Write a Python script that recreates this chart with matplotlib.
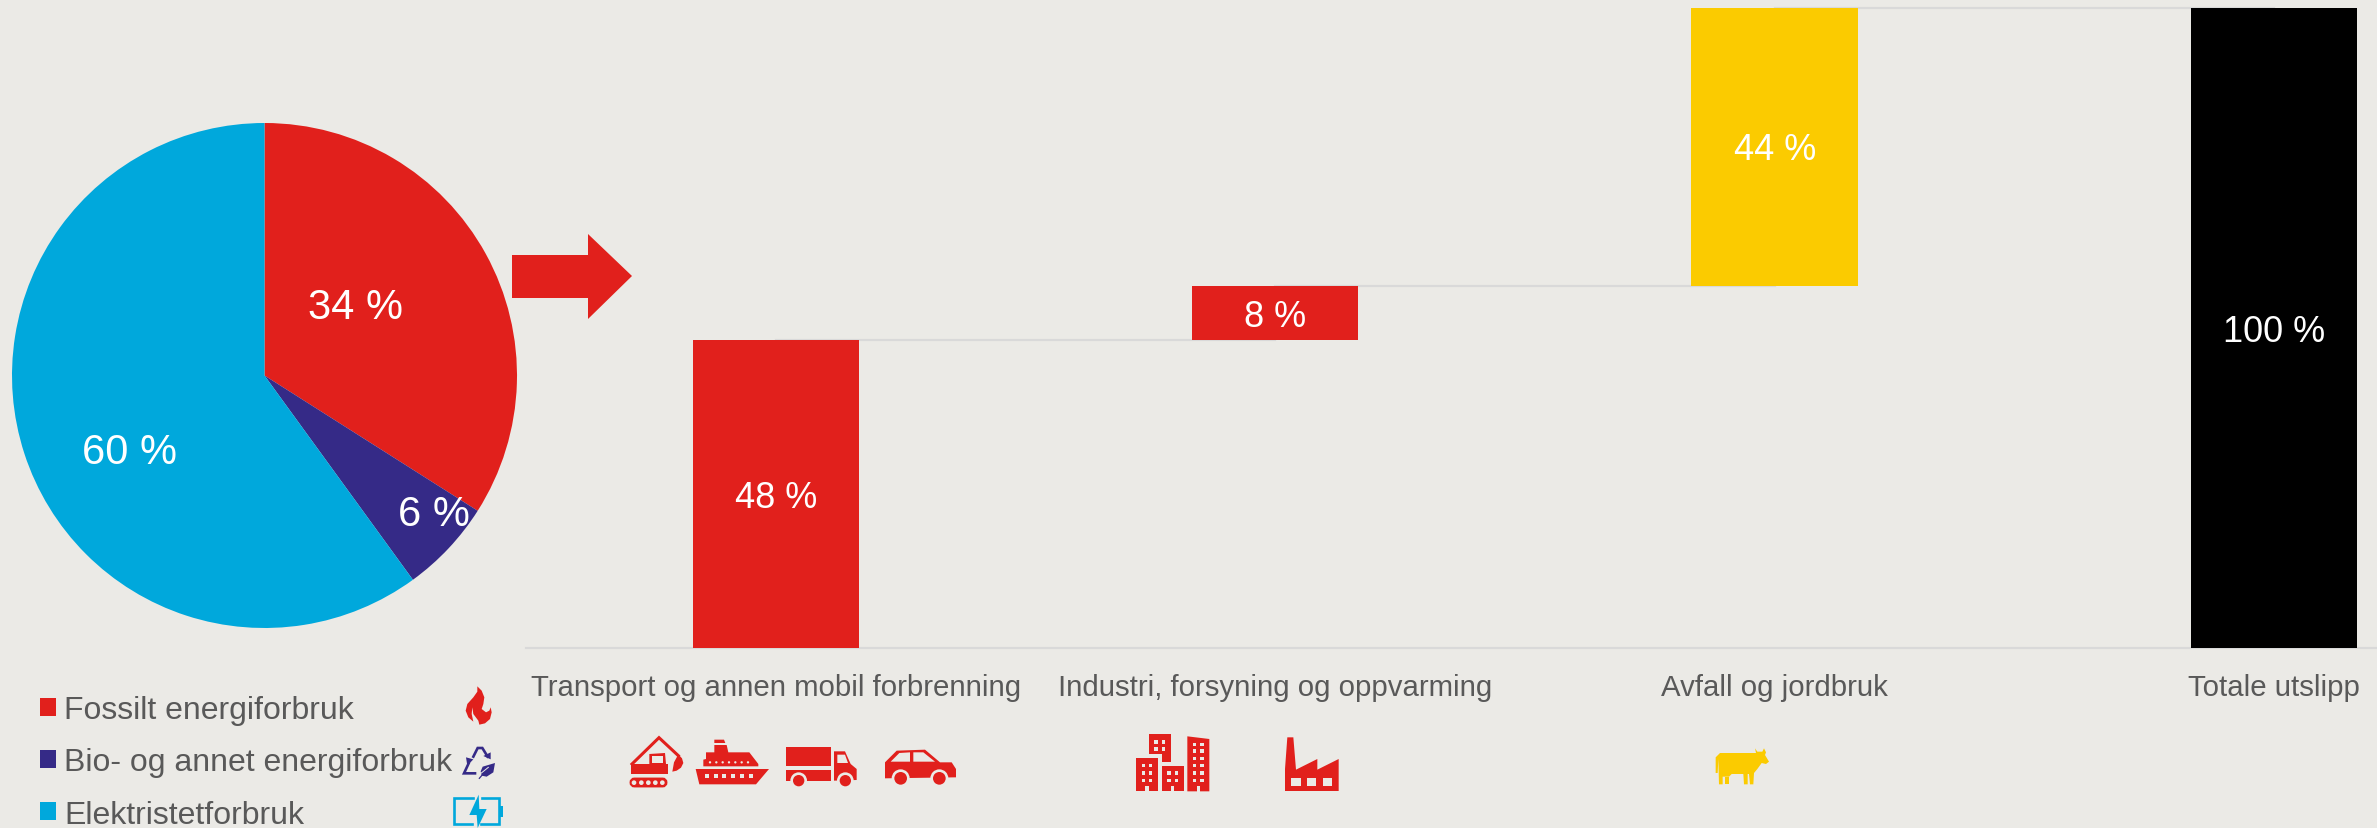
import matplotlib
matplotlib.use("Agg")
import matplotlib.pyplot as plt
from matplotlib.patches import Polygon, Rectangle, Circle, FancyBboxPatch
from matplotlib.lines import Line2D

plt.rcParams['font.family'] = ['Liberation Sans', 'DejaVu Sans']

W, H = 2377, 829
BG = '#EBEAE6'; RED = '#E1201C'; BLUE = '#00A8DC'; NAVY = '#352A87'
YELLOW = '#FBCB00'; GREY = '#595959'; RULE = '#D9D9D9'

pie_labels = ['Fossilt energiforbruk', 'Bio- og annet energiforbruk', 'Elektristetforbruk']
pie_values = [34, 6, 60]
pie_colors = [RED, NAVY, BLUE]

categories = ['Transport og annen mobil forbrenning', 'Industri, forsyning og oppvarming',
              'Avfall og jordbruk', 'Totale utslipp']
bar_values = [48.1, 8.5, 43.4, 100]
bar_bottoms = [0, 48.1, 56.6, 0]
bar_labels = ['48 %', '8 %', '44 %', '100 %']
bar_colors = [RED, RED, YELLOW, 'black']

fig = plt.figure(figsize=(W / 100, H / 100), dpi=100, facecolor=BG)


def axes_px(x0, y0, x1, y1, **kw):
    return fig.add_axes([x0 / W, 1 - y1 / H, (x1 - x0) / W, (y1 - y0) / H], **kw)


# ---- pie
ax_p = axes_px(12, 124, 517, 629)
ax_p.pie(pie_values, colors=pie_colors, startangle=90, counterclock=False, radius=1,
         wedgeprops={'linewidth': 0})
ax_p.set_xlim(-1, 1); ax_p.set_ylim(-1, 1)
for v, (tx, ty) in zip(pie_values, [(0.36, 0.273), (0.67, -0.547), (-0.535, -0.302)]):
    ax_p.text(tx, ty, f'{v} %', color='white', fontsize=30, ha='center', va='center')

# ---- waterfall
ax_b = axes_px(526, 9, W, 649)
ax_b.set_facecolor('none')
xs = range(len(categories))
ax_b.bar(xs, bar_values, bottom=bar_bottoms, width=0.333, color=bar_colors, linewidth=0, zorder=3)
ax_b.set_xlim(-0.5, 3.206); ax_b.set_ylim(0, 100)
for i in range(len(categories) - 1):
    lvl = bar_bottoms[i] + bar_values[i]
    ax_b.plot([i, i + 1], [lvl, lvl], color=RULE, lw=1.6, zorder=1, clip_on=False)
for i, (v, b, lab) in enumerate(zip(bar_values, bar_bottoms, bar_labels)):
    ax_b.annotate(lab, (i, b + v / 2), xytext=(0, -2.2), textcoords='offset points', color='white',
                  fontsize=26, ha='center', va='center', zorder=4)
for s in ('top', 'left', 'right'):
    ax_b.spines[s].set_visible(False)
ax_b.spines['bottom'].set_color(RULE); ax_b.spines['bottom'].set_linewidth(1.6)
ax_b.set_yticks([])
ax_b.set_xticks(list(xs))
ax_b.set_xticklabels(categories, fontsize=21.15, color=GREY)
ax_b.tick_params(axis='x', length=0, pad=18)

# ---- overlay in pixel coordinates, for the arrow and icons
ov = fig.add_axes([0, 0, 1, 1], zorder=5)
ov.set_xlim(0, W); ov.set_ylim(H, 0); ov.axis('off'); ov.patch.set_alpha(0)

# legend
fig.legend(handles=[Rectangle((0, 0), 1, 1, color=c, lw=0) for c in pie_colors], labels=pie_labels,
           loc='upper left', bbox_to_anchor=(40 / W, 1 - 696 / H), frameon=False,
           fontsize=23, labelcolor=GREY, handlelength=0.5, handleheight=0.5,
           handletextpad=0.25, labelspacing=0.70, borderpad=0, borderaxespad=0)

ov.add_patch(Polygon([(512, 256), (588, 256), (588, 235), (632, 277), (588, 320), (588, 299), (512, 299)],
                     color=RED, lw=0))


class Ic:
    def __init__(self, ox, oy, s=3.0):
        self.ox, self.oy, self.s = ox, oy, s

    def t(self, p):
        return (self.ox + p[0] / self.s, self.oy + p[1] / self.s)

    def poly(self, pts, c=RED):
        ov.add_patch(Polygon([self.t(p) for p in pts], closed=True, fc=c, ec='none', lw=0))

    def rect(self, x0, y0, x1, y1, c=RED):
        self.poly([(x0, y0), (x1, y0), (x1, y1), (x0, y1)], c)

    def circ(self, x, y, r, c=RED):
        ov.add_patch(Circle(self.t((x, y)), r / self.s, fc=c, ec='none', lw=0))

    def line(self, pts, c=RED, lw=2.0):
        q = [self.t(p) for p in pts]
        ov.add_line(Line2D([a[0] for a in q], [a[1] for a in q], color=c, lw=lw, solid_joinstyle='miter'))


a = Ic(610, 710)
# excavator
a.line([(66, 165), (147, 86), (205, 140)], lw=2.2)
a.rect(62, 165, 173, 196)
a.poly([(118, 165), (118, 135), (165, 132), (168, 165)])
a.rect(127, 141, 158, 162, BG)
a.poly([(205, 136), (216, 148), (220, 162), (213, 176), (200, 185), (187, 188), (192, 160)])
ov.add_patch(FancyBboxPatch(a.t((66, 213)), 99 / 3, 5, boxstyle='round,pad=0,rounding_size=2.5',
                            fc=RED, ec=RED, lw=3.5))
for x in (72, 94, 115, 136, 157):
    a.circ(x, 221, 7, BG)
# ship
a.poly([(257, 180), (477, 180), (438, 226), (268, 226)])
a.poly([(280, 172), (445, 172), (445, 165), (418, 130), (355, 130), (350, 108), (313, 108),
        (313, 130), (288, 130), (288, 150), (280, 152)])
a.poly([(313, 92), (342, 92), (346, 102), (313, 102)])
for x in (291, 317, 343, 370, 396, 423):
    a.rect(x - 6, 196, x + 6, 207, BG)
for x in (300, 319, 338, 357, 376, 395, 414):
    a.circ(x, 160, 3.5, BG)
# truck
a.rect(528, 113, 663, 172)
a.rect(528, 182, 663, 215)
a.poly([(672, 127), (705, 127), (722, 165), (740, 180), (740, 213), (672, 215)])
a.poly([(682, 137), (705, 137), (714, 162), (682, 162)], BG)
for x in (566, 706):
    a.circ(x, 215, 25, BG)
    a.circ(x, 215, 17)
# car
a.poly([(825, 160), (860, 125), (945, 122), (990, 160), (1025, 160), (1038, 180), (1038, 205), (825, 208)])
a.poly([(842, 158), (868, 132), (900, 130), (900, 158)], BG)
a.poly([(910, 130), (940, 130), (975, 158), (910, 158)], BG)
for x in (872, 988):
    a.circ(x, 208, 27, BG)
    a.circ(x, 208, 19)

b = Ic(1110, 710)
# buildings
b.rect(78, 148, 144, 247)
b.rect(155, 170, 221, 247)
b.poly([(232, 82), (298, 90), (298, 247), (232, 247)])
b.poly([(116, 76), (182, 76), (182, 158), (155, 158), (155, 136), (116, 136)])
for x in (138, 160):
    for y in (99, 120):
        b.rect(x - 5, y - 5, x + 5, y + 5, BG)
for x in (100, 122):
    for y in (170, 192, 214):
        b.rect(x - 5, y - 5, x + 5, y + 5, BG)
for x in (177, 199):
    for y in (192, 214):
        b.rect(x - 5, y - 5, x + 5, y + 5, BG)
for x in (254, 276):
    for y in (106, 126, 148, 170, 192, 214):
        b.rect(x - 5, y - 5, x + 5, y + 5, BG)
for x in (111, 188, 265):
    b.rect(x - 5, 232, x + 5, 248, BG)
# factory
b.poly([(525, 246), (525, 180), (532, 85), (550, 85), (558, 182), (622, 150), (622, 182), (686, 150), (686, 246)])
for x in (544, 591, 639):
    b.rect(x, 208, x + 28, 230, BG)

# cow
c = Ic(1680, 710)
c.poly([(107, 145), (120, 132), (228, 132), (225, 118), (232, 128), (247, 128), (252, 118), (258, 130),
        (255, 138), (267, 158), (258, 165), (245, 162), (232, 180), (222, 192), (220, 226), (210, 226),
        (207, 195), (203, 195), (203, 226), (192, 226), (190, 195), (155, 195), (147, 203), (128, 203),
        (128, 226), (117, 226), (115, 150), (113, 192), (107, 192)], YELLOW)
c.rect(136, 205, 147, 226, YELLOW)

# flame
d = Ic(440, 680)
d.poly([(112, 22), (125, 35), (133, 55), (130, 75), (125, 90), (138, 100), (148, 95), (152, 85), (155, 100),
        (150, 120), (135, 133), (118, 137), (115, 125), (100, 105), (97, 85), (95, 105), (100, 128),
        (85, 115), (77, 95), (82, 75), (100, 55), (112, 38)])

# recycling and battery
e = Ic(440, 735)
e.line([(100, 68), (113, 42), (127, 42), (143, 68)], NAVY, 1.9)
e.poly([(130, 66), (152, 76), (152, 55)], NAVY)
e.line([(86, 88), (72, 118), (105, 118)], NAVY, 1.9)
e.poly([(78, 70), (100, 76), (82, 95)], NAVY)
e.poly([(122, 112), (128, 98), (165, 87), (160, 115), (140, 128), (125, 125)], NAVY)
e.line([(118, 133), (142, 105)], NAVY, 0.9)
e.line([(124, 117), (145, 100)], BG, 0.7)
e.line([(125, 192), (177, 192), (177, 270), (122, 270)], BLUE, 1.9)
e.line([(100, 192), (43, 192), (43, 270), (95, 270)], BLUE, 1.9)
e.rect(177, 215, 190, 248, BLUE)
e.poly([(116, 182), (88, 243), (110, 243), (113, 282), (140, 225), (118, 225)], BLUE)

fig.savefig('out.png', dpi=100, facecolor=BG)
